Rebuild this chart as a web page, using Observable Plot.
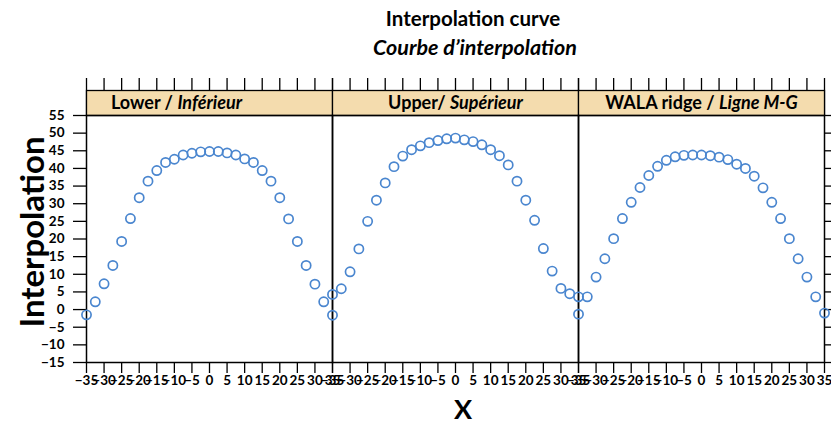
<!DOCTYPE html>
<html>
<head>
<meta charset="utf-8">
<script src="https://cdn.jsdelivr.net/npm/d3@7"></script>
<script src="https://cdn.jsdelivr.net/npm/@observablehq/plot@0.6"></script>
<style>
  body { margin: 0; background: white; font-family: Lato, "Open Sans", sans-serif; }
  #wrap { position: relative; width: 831px; height: 425px; overflow: hidden; }
  #titles { position: relative; height: 60px; }
  .t1 { position: absolute; left: 473px; transform: translateX(-50%); top: 5px; white-space: nowrap; font-weight: bold; font-size: 20.5px; line-height: 26px; }
  .t2 { position: absolute; left: 475px; transform: translateX(-50%); top: 33px; white-space: nowrap; font-weight: bold; font-style: italic; font-size: 21.5px; line-height: 28px; }
  #xlab { position: absolute; left: 463px; transform: translateX(-50%); top: 395px; font-weight: bold; font-size: 27px; line-height: 28px; }
  #ylab { position: absolute; left: 31px; top: 232px; transform: translate(-50%, -50%) rotate(-90deg); font-weight: bold; font-size: 33px; white-space: nowrap; }
</style>
</head>
<body>
<div id="wrap">
  <div id="titles">
    <div class="t1">Interpolation curve</div>
    <div class="t2">Courbe d’interpolation</div>
  </div>
  <div id="chart"></div>
  <div id="xlab">X</div>
  <div id="ylab">Interpolation</div>
</div>
<script>
// ---- data ----
const panels = ["Lower", "Upper", "WALA"];
const stripMain = ["Lower / ", "Upper/ ", "WALA ridge / "];
const stripItalic = ["Inférieur", "Supérieur", "Ligne M-G"];
const xValues = [-35, -32.5, -30, -27.5, -25, -22.5, -20, -17.5, -15, -12.5, -10, -7.5, -5, -2.5, 0,
                 2.5, 5, 7.5, 10, 12.5, 15, 17.5, 20, 22.5, 25, 27.5, 30, 32.5, 35];
const lowerY = [-1.5, 2.2, 7.3, 12.5, 19.3, 25.8, 31.7, 36.4, 39.4, 41.7, 42.6, 43.8, 44.3, 44.7, 44.8,
                44.8, 44.4, 43.8, 42.7, 41.7, 39.4, 36.4, 31.7, 25.7, 19.3, 12.5, 7.2, 2.2, -1.6];
const upperY = [4.3, 5.9, 10.7, 17.2, 25.0, 31.0, 35.9, 40.5, 43.5, 45.3, 46.4, 47.3, 47.9, 48.4, 48.6,
                48.1, 47.6, 46.7, 45.3, 43.6, 41.0, 36.4, 31.0, 25.3, 17.3, 10.9, 6.0, 4.5, 3.6];
const walaY  = [-1.3, 3.6, 9.2, 14.4, 20.1, 25.8, 30.4, 34.6, 38.0, 40.6, 42.3, 43.3, 43.7, 43.8, 43.8,
                43.6, 43.2, 42.5, 41.2, 40.0, 37.8, 34.5, 30.4, 25.8, 20.1, 14.4, 9.2, 3.6, -1.0];
const xTicks = [-35, -30, -25, -20, -15, -10, -5, 0, 5, 10, 15, 20, 25, 30, 35];
const yTicks = [-15, -10, -5, 0, 5, 10, 15, 20, 25, 30, 35, 40, 45, 50, 55];

const series = [lowerY, upperY, walaY];
const data = panels.flatMap((p, i) => xValues.map((x, j) => ({panel: p, x, y: series[i][j]})));

// ---- layout ----
const W = 831, H = 335, mt = 55, mb = 33, ml = 85, mr = 7;
const panelH = H - mt - mb;
const stripH = 25;
const tan = "#f4dcae";
const FONT = "Lato, 'Open Sans', sans-serif";

const chart = Plot.plot({
  width: W, height: H,
  marginTop: mt, marginBottom: mb, marginLeft: ml, marginRight: mr,
  style: {fontFamily: FONT, fontSize: "13.5px", fontWeight: "bold", color: "black", background: "white", overflow: "visible"},
  fx: {domain: panels, padding: 0, axis: null, label: null},
  x: {domain: [-35, 35], label: null},
  y: {domain: [-15, 55], label: null},
  marks: [
    Plot.axisX({anchor: "top", ticks: xTicks, tickSize: stripH + 13, tickFormat: () => "", label: null, strokeWidth: 1.3}),
    Plot.axisY({anchor: "left", ticks: yTicks, tickSize: 13, tickPadding: 9, label: null, strokeWidth: 1.3}),
    Plot.axisY({anchor: "right", ticks: yTicks, tickSize: 8, tickFormat: () => "", label: null, strokeWidth: 1.3}),
    Plot.axisX({anchor: "bottom", ticks: xTicks, tickSize: 11, tickPadding: 2, label: null, strokeWidth: 1.3}),
    Plot.frame({fill: tan, stroke: "black", strokeWidth: 1.3, insetTop: -stripH, insetBottom: panelH}),
    Plot.frame({stroke: "black", strokeWidth: 1.5}),
    Plot.text(panels, {fx: d => d, text: (d) => stripMain[panels.indexOf(d)] + stripItalic[panels.indexOf(d)],
      frameAnchor: "top", lineAnchor: "middle", dy: -stripH / 2, fontSize: 18, fontWeight: "bold", fill: "black"}),
    Plot.dot(data, {fx: "panel", x: "x", y: "y", r: 4.6, stroke: "#4a86cf", strokeWidth: 1.7, fill: "none"})
  ]
});
document.getElementById("chart").appendChild(chart);

// mixed bold / bold-italic strip labels
d3.select(chart).selectAll("text").each(function() {
  const t = this.textContent;
  const i = stripMain.findIndex((m, k) => t === m + stripItalic[k]);
  if (i < 0) return;
  const s = d3.select(this);
  s.text(null);
  s.append("tspan").text(stripMain[i]);
  s.append("tspan").attr("font-style", "italic").text(stripItalic[i]);
  if (i === 0) s.attr("dx", -33);
});
</script>
</body>
</html>
